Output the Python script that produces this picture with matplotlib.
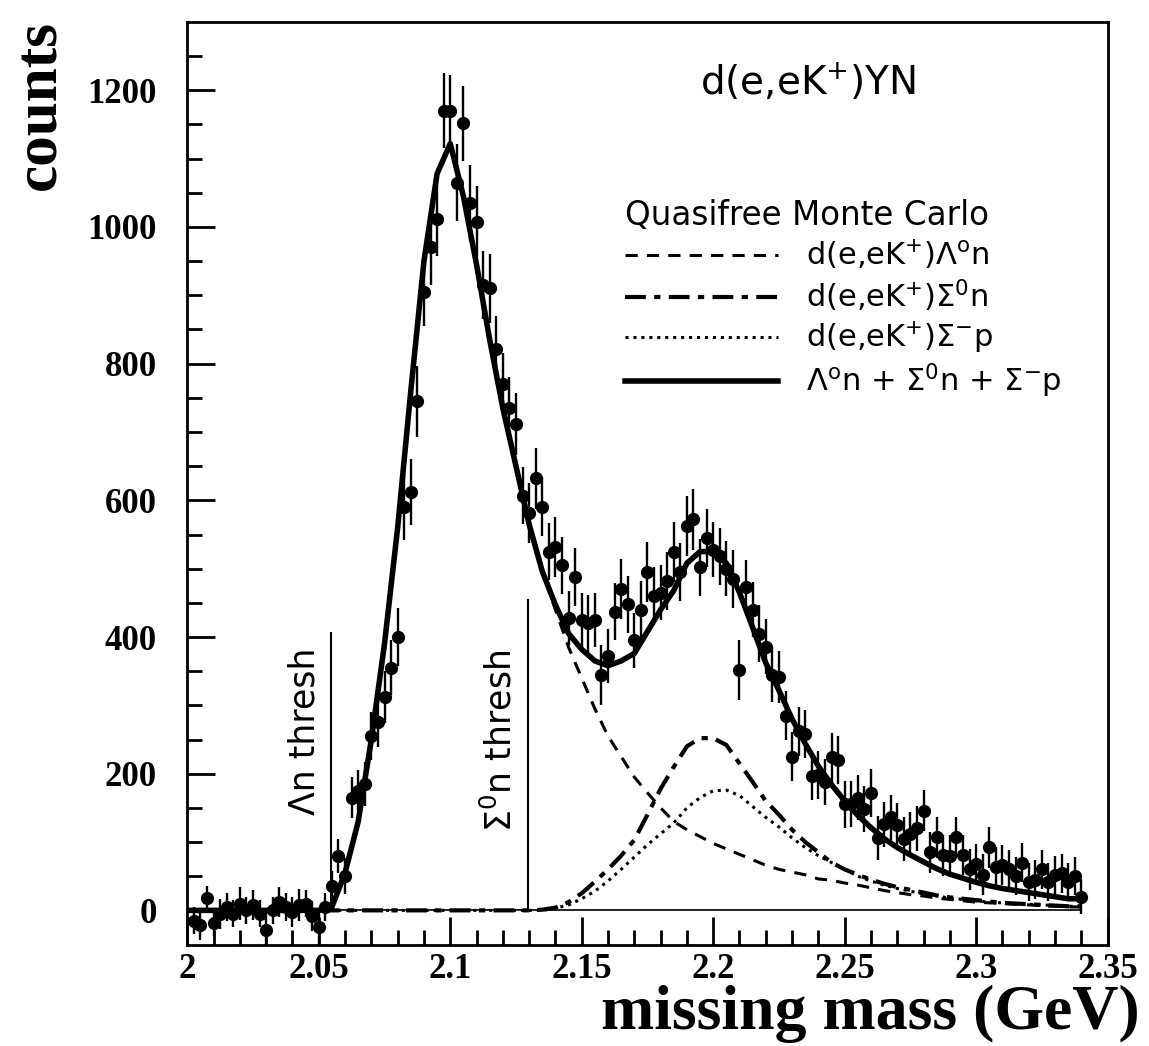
import numpy as np
import matplotlib
matplotlib.use("Agg")
import matplotlib.pyplot as plt

plt.rcParams["mathtext.default"] = "regular"
plt.rcParams["font.family"] = ["DejaVu Sans"]

# ---- measured spectrum: d(e,eK+)YN missing mass, 2.5 MeV bins ----
bin_width = 0.0025
mass = np.round(2.0025 + bin_width * np.arange(136), 4)
counts = [
    -15, -22, 18, -18, -5, 5, -5, 10, 0, 8, -5, -28, 0, 12, 5, -3, 8, 10, -8, -25,
    5, 35, 80, 50, 165, 175, 185, 255, 275, 312, 355, 400, 590, 612, 745, 905, 970, 1012,
    1170, 1170, 1065, 1152, 1035, 1008, 915, 910, 822, 770, 735, 712, 607, 582, 632, 590,
    525, 532, 505, 428, 488, 425, 420, 425, 345, 372, 437, 470, 448, 395, 440, 495, 460,
    465, 482, 525, 495, 562, 572, 502, 545, 528, 518, 500, 485, 352, 473, 440, 405, 386,
    345, 342, 285, 225, 262, 258, 196, 198, 188, 224, 220, 155, 156, 165, 148, 172, 106,
    126, 136, 125, 104, 112, 120, 146, 85, 107, 81, 80, 107, 81, 60, 68, 52, 92, 64, 66,
    60, 50, 70, 42, 45, 60, 42, 52, 54, 42, 50, 20,
]
errors = [
    20, 22, 18, 20, 22, 20, 20, 24, 20, 22, 20, 25, 20, 22, 20, 22, 24, 20, 22, 25,
    20, 22, 25, 26, 30, 30, 32, 35, 36, 38, 40, 42, 48, 48, 52, 50, 55, 55, 55, 52,
    56, 55, 55, 52, 50, 50, 48, 46, 45, 45, 42, 44, 44, 42, 42, 44, 42, 40, 42, 40,
    42, 40, 44, 40, 42, 44, 42, 40, 42, 44, 42, 40, 42, 44, 42, 44, 44, 42, 42, 40,
    42, 40, 42, 44, 40, 40, 42, 40, 40, 38, 36, 36, 36, 35, 35, 35, 34, 36, 35, 34,
    34, 33, 34, 35, 32, 33, 33, 32, 32, 32, 33, 30, 30, 30, 30, 31, 30, 29, 30, 29,
    30, 30, 29, 29, 29, 28, 29, 28, 28, 29, 28, 28, 28, 28, 28, 26,
]

# ---- quasifree Monte Carlo components, 5 MeV grid ----
mc_mass = np.round(2.0 + 0.005 * np.arange(69), 3)
lambda_n = [
    0, 0, 0, 0, 0, 0, 0, 0, 0, 0, 0, 5, 55, 130, 250, 390, 560, 760, 950, 1078,
    1122, 1045, 945, 835, 735, 650, 565, 495, 440, 385, 340, 295, 255, 225, 195, 172,
    150, 130, 118, 108, 98, 90, 82, 74, 66, 60, 56, 52, 46, 44, 40, 37, 33, 29, 26, 23,
    21, 18, 16, 14, 12, 11, 10, 9, 8, 7, 6, 5, 5,
]
sigma0_n = [
    0, 0, 0, 0, 0, 0, 0, 0, 0, 0, 0, 0, 0, 0, 0, 0, 0, 0, 0, 0,
    0, 0, 0, 0, 0, 0, 0, 1, 4, 12, 25, 42, 60, 80, 103, 140,
    178, 210, 240, 252, 252, 242, 215, 188, 160, 140, 118, 100, 85, 70, 60, 52, 45, 39, 34, 30,
    26, 22, 19, 17, 15, 13, 11, 10, 9, 8, 7, 6, 6,
]
sigmam_p = [
    0, 0, 0, 0, 0, 0, 0, 0, 0, 0, 0, 0, 0, 0, 0, 0, 0, 0, 0, 0,
    0, 0, 0, 0, 0, 0, 0, 0, 3, 8, 17, 28, 43, 60, 78, 96,
    112, 128, 150, 165, 175, 176, 168, 152, 136, 122, 106, 92, 80, 70, 60, 50, 43, 37, 32, 28,
    24, 21, 18, 16, 14, 12, 11, 10, 9, 8, 7, 6, 6,
]
mc_total = np.array(lambda_n) + np.array(sigma0_n) + np.array(sigmam_p)

# reaction thresholds (GeV) and the heights of their marker lines
thresholds = {"lambda": 2.0545, "sigma0": 2.1295}
threshold_heights = {"lambda": 408, "sigma0": 455}

fig = plt.figure(figsize=(11.49, 10.46), dpi=100)
ax = fig.add_axes([0.163, 0.097, 0.801, 0.882])

serif_bold = dict(family="Liberation Serif", weight="bold")

# zero line under the spectrum
ax.hlines(0, mc_mass[0], mc_mass[-1], color="black", lw=1.2, zorder=1)

l_lam, = ax.plot(mc_mass, lambda_n, color="black", lw=2.2, dashes=(4, 3), zorder=2)
l_sig0, = ax.plot(mc_mass, sigma0_n, color="black", lw=3.0, dashes=(5, 2, 1.5, 2), zorder=2)
l_sigm, = ax.plot(mc_mass, sigmam_p, color="black", lw=2.2, dashes=(1, 1.6), zorder=2)
l_tot, = ax.plot(mc_mass, mc_total, color="black", lw=4.0, solid_joinstyle="round", zorder=3)

ax.errorbar(mass, counts, yerr=errors, xerr=bin_width / 2, fmt="o", color="black",
            ms=8.5, elinewidth=1.7, capsize=0, zorder=4)

# threshold markers
for key, label, ypos in (("lambda", "Λn thresh", 140), ("sigma0", "Σ$^{0}$n thresh", 115)):
    ax.vlines(thresholds[key], 0, threshold_heights[key], color="black", lw=1.5, zorder=2)
    ax.text(thresholds[key] - 0.0035, ypos, label, rotation=90, ha="right", va="bottom",
            fontsize=25)

ax.text(2.236, 1212, "d(e,eK$^{+}$)YN", fontsize=28, ha="center", va="center")

leg = ax.legend([l_lam, l_sig0, l_sigm, l_tot],
                ["d(e,eK$^{+}$)Λ$^{o}$n", "d(e,eK$^{+}$)Σ$^{0}$n",
                 "d(e,eK$^{+}$)Σ$^{-}$p", "Λ$^{o}$n + Σ$^{0}$n + Σ$^{-}$p"],
                title="Quasifree Monte Carlo", title_fontsize=23.5, fontsize=22,
                loc="upper left", bbox_to_anchor=(0.476, 0.808), frameon=False,
                handlelength=5.0, handletextpad=0.9, labelspacing=0.2,
                borderpad=0, borderaxespad=0, alignment="left")

ax.set_xlim(2.0, 2.35)
ax.set_ylim(-50, 1300)
ax.set_xticks(np.arange(2.0, 2.351, 0.05))
ax.set_xticklabels(["2", "2.05", "2.1", "2.15", "2.2", "2.25", "2.3", "2.35"])
ax.set_xticks(np.arange(2.0, 2.351, 0.01), minor=True)
ax.set_yticks(np.arange(0, 1201, 200))
ax.set_yticks(np.arange(0, 1251, 50), minor=True)

ax.tick_params(which="both", direction="in", top=False, right=False, width=2)
ax.tick_params(which="major", length=20)
ax.tick_params(which="minor", length=11)
ax.tick_params(axis="y", pad=22)
ax.tick_params(axis="x", pad=6)
for lab in ax.get_xticklabels() + ax.get_yticklabels():
    lab.set_fontfamily("Liberation Serif")
    lab.set_fontweight("bold")
    lab.set_fontsize(25)
for sp in ax.spines.values():
    sp.set_linewidth(2)

ax.set_xlabel("missing mass (GeV)", fontsize=46, ha="right", va="center", **serif_bold)
ax.xaxis.set_label_coords(1.035, -0.075)
ax.set_ylabel("counts", fontsize=44, rotation=90, ha="center", va="center", **serif_bold)
ax.yaxis.set_label_coords(-0.16, 0.91)

fig.savefig("out.png", dpi=100)
